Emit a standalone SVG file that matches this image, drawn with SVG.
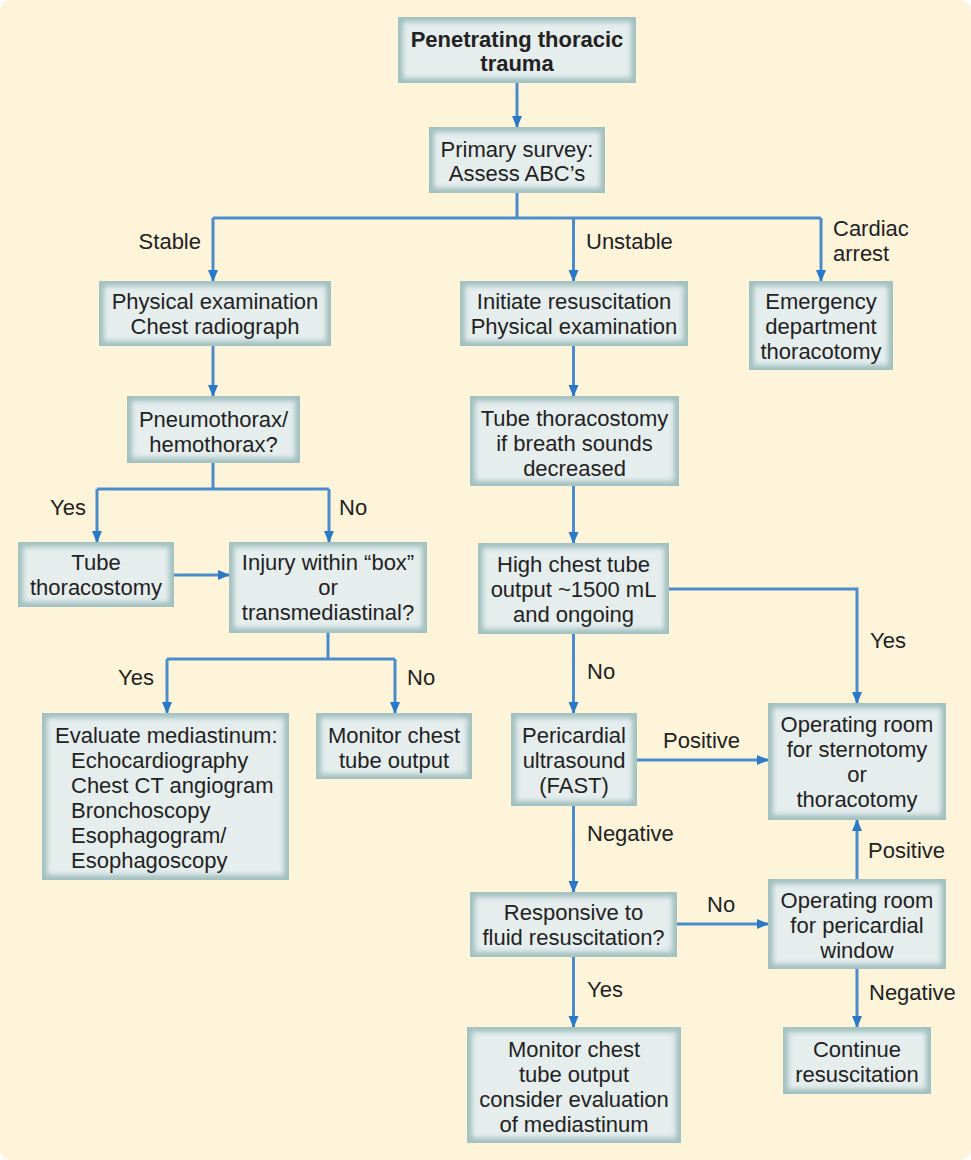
<svg xmlns="http://www.w3.org/2000/svg" width="971" height="1160" viewBox="0 0 971 1160">
<defs>
<filter id="soft" x="-10%" y="-10%" width="120%" height="120%"><feGaussianBlur stdDeviation="2.5"/></filter>
<marker id="ah" viewBox="0 0 12 10" refX="11" refY="5" markerUnits="userSpaceOnUse" markerWidth="12" markerHeight="11" orient="auto"><path d="M0,0 L12,5 L0,10 z" fill="#2a79c8"/></marker>
</defs>
<style>
.o{fill:#a2c0c0}
.i{fill:#e5eded}
text{font-family:"Liberation Sans",Arial,sans-serif;font-size:22px;fill:#222}
.c{text-anchor:middle}
.e{text-anchor:end}
.bd{font-weight:bold}
.ln{fill:none;stroke:#4b8dcc;stroke-width:3}
.ar{marker-end:url(#ah)}
</style>
<rect x="0" y="0" width="971" height="1160" fill="#ffffff"/>
<rect x="0" y="0" width="971" height="1160" rx="10" fill="#fdf4da"/>

<g id="connectors">
<path class="ln ar" d="M517,83 V127"/>
<path class="ln" d="M517,193 V218 M213,218 H821"/>
<path class="ln ar" d="M213,218 V281"/>
<path class="ln ar" d="M573.5,218 V281"/>
<path class="ln ar" d="M821,218 V281"/>
<path class="ln ar" d="M213,346 V396"/>
<path class="ln" d="M213,463 V489 M97,489 H329"/>
<path class="ln ar" d="M97,489 V542"/>
<path class="ln ar" d="M329,489 V542"/>
<path class="ln ar" d="M174,575 H229"/>
<path class="ln" d="M328,633 V659 M167,659 H395"/>
<path class="ln ar" d="M167,659 V713"/>
<path class="ln ar" d="M395,659 V713"/>
<path class="ln ar" d="M573.5,346 V396"/>
<path class="ln ar" d="M573.5,486 V543"/>
<path class="ln ar" d="M669,589 H857 V703"/>
<path class="ln ar" d="M573.5,634 V713"/>
<path class="ln ar" d="M637,760 H768"/>
<path class="ln ar" d="M573.5,806 V892"/>
<path class="ln ar" d="M677,924 H768"/>
<path class="ln ar" d="M857,879 V820"/>
<path class="ln ar" d="M857,969 V1027"/>
<path class="ln ar" d="M573.5,957 V1027"/>
<text class="e" x="201" y="249">Stable</text>
<text x="586" y="249">Unstable</text>
<text x="833" y="236">Cardiac</text>
<text x="833" y="261">arrest</text>
<text x="50" y="515">Yes</text>
<text x="339" y="515">No</text>
<text class="e" x="154" y="685">Yes</text>
<text x="407" y="685">No</text>
<text x="870" y="648">Yes</text>
<text x="587" y="679">No</text>
<text x="663" y="748">Positive</text>
<text x="587" y="841">Negative</text>
<text x="707" y="912">No</text>
<text x="868" y="858">Positive</text>
<text x="869" y="1000">Negative</text>
<text x="587" y="997">Yes</text>
</g>

<g id="n1"><rect class="o" x="398" y="17" width="238" height="66"/><rect class="i" x="403" y="22" width="228" height="56" filter="url(#soft)"/>
<text class="c bd" x="517" y="47">Penetrating thoracic</text><text class="c bd" x="517" y="71">trauma</text></g>

<g id="n2"><rect class="o" x="429" y="127" width="176" height="66"/><rect class="i" x="434" y="132" width="166" height="56" filter="url(#soft)"/>
<text class="c" x="517" y="157">Primary survey:</text><text class="c" x="517" y="181">Assess ABC’s</text></g>

<g id="n3"><rect class="o" x="99" y="281" width="232" height="65"/><rect class="i" x="104" y="286" width="222" height="55" filter="url(#soft)"/>
<text class="c" x="215" y="309">Physical examination</text><text class="c" x="215" y="334">Chest radiograph</text></g>

<g id="n4"><rect class="o" x="460" y="281" width="228" height="65"/><rect class="i" x="465" y="286" width="218" height="55" filter="url(#soft)"/>
<text class="c" x="574" y="309">Initiate resuscitation</text><text class="c" x="574" y="334">Physical examination</text></g>

<g id="n5"><rect class="o" x="749" y="281" width="144" height="89"/><rect class="i" x="754" y="286" width="134" height="79" filter="url(#soft)"/>
<text class="c" x="821" y="309">Emergency</text><text class="c" x="821" y="334">department</text><text class="c" x="821" y="359">thoracotomy</text></g>

<g id="n6"><rect class="o" x="127" y="396" width="173" height="67"/><rect class="i" x="132" y="401" width="163" height="57" filter="url(#soft)"/>
<text class="c" x="213.5" y="427">Pneumothorax/</text><text class="c" x="213.5" y="452">hemothorax?</text></g>

<g id="n7"><rect class="o" x="18" y="542" width="156" height="65"/><rect class="i" x="23" y="547" width="146" height="55" filter="url(#soft)"/>
<text class="c" x="96" y="570">Tube</text><text class="c" x="96" y="595">thoracostomy</text></g>

<g id="n8"><rect class="o" x="229" y="542" width="198" height="91"/><rect class="i" x="234" y="547" width="188" height="81" filter="url(#soft)"/>
<text class="c" x="328" y="570">Injury within “box”</text><text class="c" x="328" y="595">or</text><text class="c" x="328" y="620">transmediastinal?</text></g>

<g id="n9"><rect class="o" x="42" y="713" width="247" height="167"/><rect class="i" x="47" y="718" width="237" height="157" filter="url(#soft)"/>
<text x="55" y="743">Evaluate mediastinum:</text><text x="71" y="768">Echocardiography</text><text x="71" y="793">Chest CT angiogram</text><text x="71" y="818">Bronchoscopy</text><text x="71" y="843">Esophagogram/</text><text x="71" y="868">Esophagoscopy</text></g>

<g id="n10"><rect class="o" x="316" y="713" width="156" height="66"/><rect class="i" x="321" y="718" width="146" height="56" filter="url(#soft)"/>
<text class="c" x="394" y="743">Monitor chest</text><text class="c" x="394" y="768">tube output</text></g>

<g id="n11"><rect class="o" x="470" y="396" width="209" height="90"/><rect class="i" x="475" y="401" width="199" height="80" filter="url(#soft)"/>
<text class="c" x="574.5" y="426">Tube thoracostomy</text><text class="c" x="574.5" y="451">if breath sounds</text><text class="c" x="574.5" y="476">decreased</text></g>

<g id="n12"><rect class="o" x="478" y="543" width="191" height="91"/><rect class="i" x="483" y="548" width="181" height="81" filter="url(#soft)"/>
<text class="c" x="573.5" y="572">High chest tube</text><text class="c" x="573.5" y="597">output ~1500 mL</text><text class="c" x="573.5" y="622">and ongoing</text></g>

<g id="n13"><rect class="o" x="511" y="713" width="126" height="93"/><rect class="i" x="516" y="718" width="116" height="83" filter="url(#soft)"/>
<text class="c" x="574" y="743">Pericardial</text><text class="c" x="574" y="768">ultrasound</text><text class="c" x="574" y="793">(FAST)</text></g>

<g id="n14"><rect class="o" x="768" y="703" width="178" height="117"/><rect class="i" x="773" y="708" width="168" height="107" filter="url(#soft)"/>
<text class="c" x="857" y="732">Operating room</text><text class="c" x="857" y="757">for sternotomy</text><text class="c" x="857" y="782">or</text><text class="c" x="857" y="807">thoracotomy</text></g>

<g id="n15"><rect class="o" x="470" y="892" width="207" height="65"/><rect class="i" x="475" y="897" width="197" height="55" filter="url(#soft)"/>
<text class="c" x="573.5" y="920">Responsive to</text><text class="c" x="573.5" y="945">fluid resuscitation?</text></g>

<g id="n16"><rect class="o" x="768" y="879" width="178" height="90"/><rect class="i" x="773" y="884" width="168" height="80" filter="url(#soft)"/>
<text class="c" x="857" y="908">Operating room</text><text class="c" x="857" y="933">for pericardial</text><text class="c" x="857" y="958">window</text></g>

<g id="n17"><rect class="o" x="783" y="1027" width="148" height="67"/><rect class="i" x="788" y="1032" width="138" height="57" filter="url(#soft)"/>
<text class="c" x="857" y="1057">Continue</text><text class="c" x="857" y="1082">resuscitation</text></g>

<g id="n18"><rect class="o" x="467" y="1027" width="214" height="116"/><rect class="i" x="472" y="1032" width="204" height="106" filter="url(#soft)"/>
<text class="c" x="574" y="1057">Monitor chest</text><text class="c" x="574" y="1082">tube output</text><text class="c" x="574" y="1107">consider evaluation</text><text class="c" x="574" y="1132">of mediastinum</text></g>
</svg>
